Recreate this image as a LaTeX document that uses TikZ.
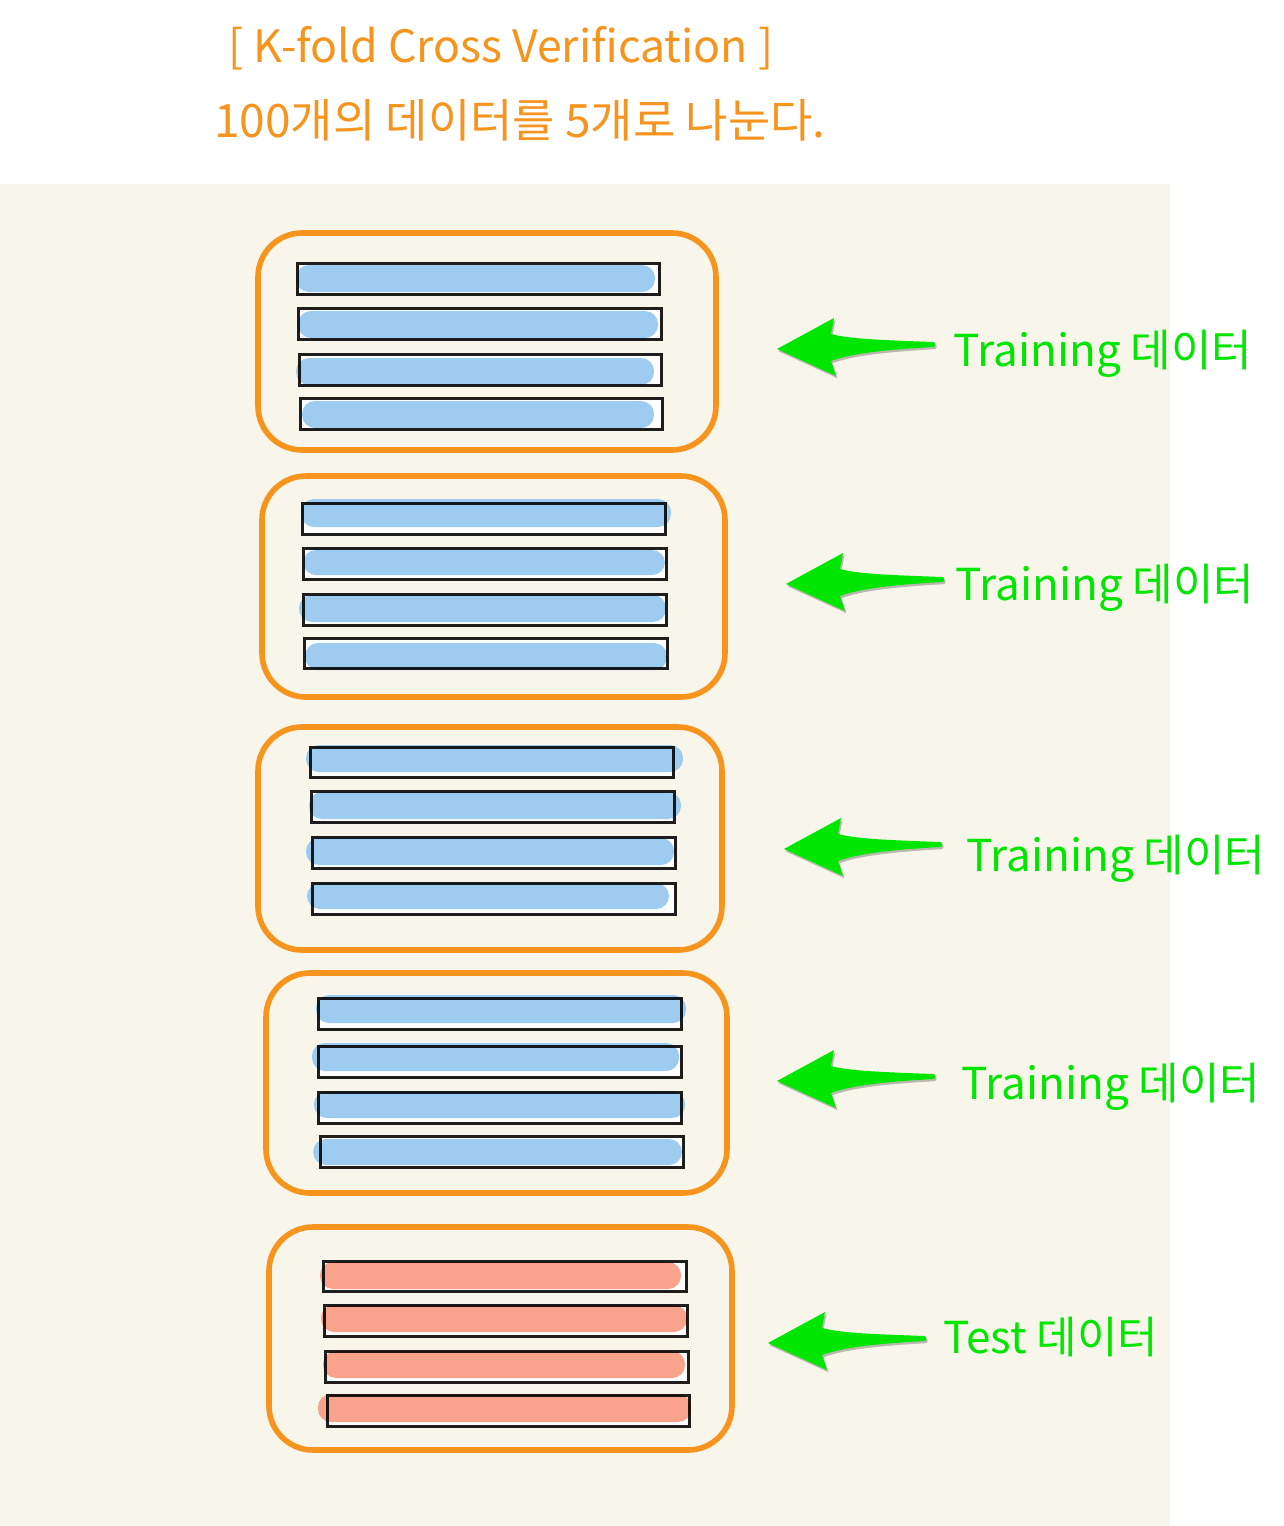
\documentclass[tikz,border=0pt]{standalone}
\usepackage{fontspec}
\setmainfont{Noto Sans CJK KR}
\usetikzlibrary{positioning,fit}
\definecolor{foldorange}{RGB}{247,148,30}
\definecolor{paper}{RGB}{248,246,234}
\definecolor{trainblue}{RGB}{158,204,240}
\definecolor{testred}{RGB}{249,163,140}
\definecolor{arrowgreen}{RGB}{0,230,0}

\begin{document}
\begin{tikzpicture}[x=0.5pt,y=-0.5pt,
    fold/.style={draw=foldorange,line width=2.8pt,rounded corners=22pt,inner sep=0pt},
    lbl/.style={text=arrowgreen,font=\fontsize{22}{26}\selectfont,anchor=base west,inner sep=0pt},
    title/.style={text=foldorange,font=\fontsize{22.3}{26}\selectfont,anchor=base,inner sep=0pt},
    fatarrow/.pic={
      \fill[arrowgreen,preaction={fill=black,fill opacity=.25,transform canvas={xshift=.7pt,yshift=-1.1pt}}]
        (0,0) -- (57,-31) -- (54,-15) .. controls (73,-10) and (103,-9) .. (156,-7)
        .. controls (159,-7) and (159,-2) .. (156,-2)
        .. controls (103,1) and (73,5) .. (54,12) -- (59,27) -- cycle;
    }]
  \useasboundingbox (0,0) rectangle (1284,1526);
  \fill[white] (0,0) rectangle (1284,1526);
  \fill[paper] (0,184) rectangle (1170,1526);

  % title
  \node[title] (head) at (501,62) {[ K-fold Cross Verification ]};
  \node[title,font=\fontsize{23}{26}\selectfont] (sub) at (520,137) {100개의 데이터를 5개로 나눈다.};

  % folds
  \node[fold,fit={(258,233) (716,450)}] (fold1) {};
  \node[fold,fit={(262,476) (725,697)}] (fold2) {};
  \node[fold,fit={(258,727) (722,950)}] (fold3) {};
  \node[fold,fit={(266,973) (727,1193)}] (fold4) {};
  \node[fold,fit={(269,1227) (732,1450)}] (fold5) {};

  % rows: box / strip / colour
  \foreach \a/\b/\c/\d/\e/\f/\g/\h/\col in {
      297/263/659/294/296/265/655/292/trainblue,
      298/308/661/339/298/311/658/338/trainblue,
      299/354/661/385/296/358/654/385/trainblue,
      300/398/662/429/302/401/654/428/trainblue,
      302/503/665/534/301/499/671/527/trainblue,
      303/548/666/579/303/550/665/575/trainblue,
      303/594/666/625/299/595/666/622/trainblue,
      304/638/667/668/305/643/667/670/trainblue,
      310/747/673/777/306/745/683/772/trainblue,
      311/791/674/822/309/792/681/819/trainblue,
      312/837/675/868/306/838/674/865/trainblue,
      312/883/675/914/307/883/669/909/trainblue,
      318/998/681/1029/316/995/686/1023/trainblue,
      318/1046/681/1077/312/1043/679/1071/trainblue,
      318/1092/681/1123/314/1091/685/1118/trainblue,
      320/1136/683/1167/313/1139/682/1165/trainblue,
      323/1261/686/1291/320/1262/681/1289/testred,
      324/1305/687/1336/321/1305/687/1332/testred,
      325/1351/688/1382/323/1351/685/1378/testred,
      327/1395/689/1426/318/1394/691/1422/testred}{
    \fill[white] (\a,\b) rectangle (\c,\d);
    \fill[\col,rounded corners=6.5pt] (\e,\f) rectangle (\g,\h);
    \draw[black,draw opacity=.88,line width=1.5pt] (\a,\b) rectangle (\c,\d);
  }

  % arrows and labels
  \coordinate (t1) at (777,349);
  \coordinate (t2) at (786,584);
  \coordinate (t3) at (784,849);
  \coordinate (t4) at (777,1081);
  \coordinate (t5) at (768,1343);
  \pic at (t1) {fatarrow};
  \pic at (t2) {fatarrow};
  \pic at (t3) {fatarrow};
  \pic at (t4) {fatarrow};
  \pic at (t5) {fatarrow};
  \node[lbl] (train1) at (953,366) {Training 데이터};
  \node[lbl] (train2) at (955,600) {Training 데이터};
  \node[lbl] (train3) at (966,871) {Training 데이터};
  \node[lbl] (train4) at (961,1099) {Training 데이터};
  \node[lbl] (test5) at (943,1353) {Test 데이터};
\end{tikzpicture}
\end{document}
